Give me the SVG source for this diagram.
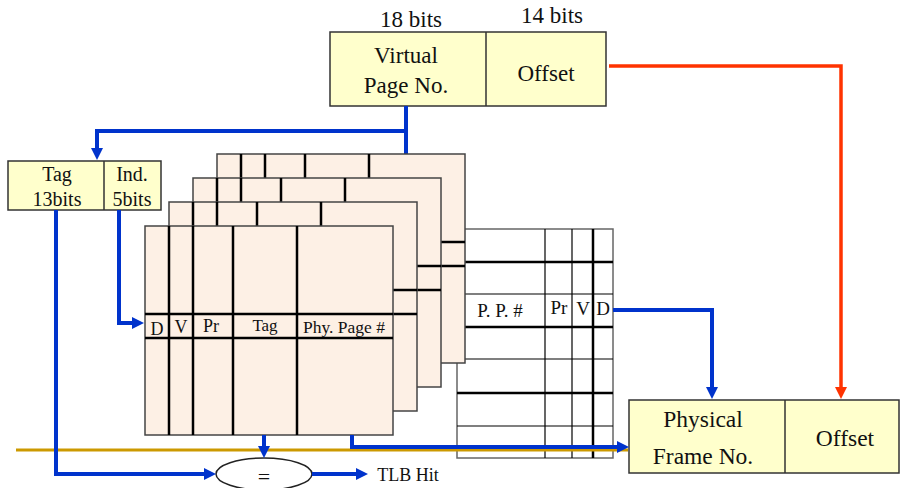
<svg xmlns="http://www.w3.org/2000/svg" xmlns:xlink="http://www.w3.org/1999/xlink" width="900" height="488" viewBox="0 0 900 488">
  <style>
    text { font-family: "Liberation Serif", "Times New Roman", serif; fill: #111; text-anchor: middle; }
    .box { fill: #FFFFCC; stroke: #333; stroke-width: 1.5; }
    .div { stroke: #333; stroke-width: 1.5; }
    .plane { fill: #FDF0E5; stroke: #444; stroke-width: 1.5; }
    .pl { stroke: #000; stroke-width: 2.5; }
    .tbl { fill: #FFFFFF; stroke: #666; stroke-width: 1.5; }
    .thin { stroke: #000; stroke-width: 1.2; }
    .thick { stroke: #000; stroke-width: 2.5; }
    .blue { fill: none; stroke: #0033CC; stroke-width: 4; }
    .red { fill: none; stroke: #FF3300; stroke-width: 3.5; }
    .gold { fill: none; stroke: #CC9900; stroke-width: 3; }
  </style>
  <defs>
    <marker id="arrBlue" viewBox="0 0 12 12" refX="4" refY="6" markerWidth="12" markerHeight="12" markerUnits="userSpaceOnUse" orient="auto">
      <path d="M0,0 L12,6 L0,12 z" fill="#0033CC"/>
    </marker>
    <marker id="arrRed" viewBox="0 0 12 12" refX="4" refY="6" markerWidth="12" markerHeight="12" markerUnits="userSpaceOnUse" orient="auto">
      <path d="M0,0 L12,6 L0,12 z" fill="#FF3300"/>
    </marker>
    <!-- one set of the TLB: entry grid with field columns -->
    <g id="tlbSet">
      <rect class="plane" x="0" y="0" width="248" height="209"/>
      <line class="pl" x1="24" y1="0" x2="24" y2="209"/>
      <line class="pl" x1="48" y1="0" x2="48" y2="209"/>
      <line class="pl" x1="88" y1="0" x2="88" y2="209"/>
      <line class="pl" x1="152" y1="0" x2="152" y2="209"/>
      <line class="pl" x1="0" y1="88" x2="248" y2="88"/>
      <line class="pl" x1="0" y1="112" x2="248" y2="112"/>
    </g>
  </defs>

  <!-- virtual address -->
  <g id="virtualAddress">
    <text x="411" y="27" font-size="23">18 bits</text>
    <text x="552" y="23" font-size="23">14 bits</text>
    <rect class="box" x="330" y="32" width="276" height="74"/>
    <line class="div" x1="486" y1="32" x2="486" y2="106"/>
    <text x="406" y="63" font-size="23">Virtual</text>
    <text x="406" y="93" font-size="23">Page No.</text>
    <text x="546" y="81" font-size="23">Offset</text>
  </g>

  <!-- tag / index split -->
  <g id="tagIndex">
    <rect class="box" x="8" y="161" width="153" height="49"/>
    <line class="div" x1="104" y1="161" x2="104" y2="210"/>
    <text x="57" y="181" font-size="20">Tag</text>
    <text x="57" y="206" font-size="20">13bits</text>
    <text x="132" y="181" font-size="20">Ind.</text>
    <text x="132" y="206" font-size="20">5bits</text>
  </g>

  <!-- page number bus going under the sets -->
  <g id="vpnBus">
    <path class="blue" d="M406,106 V156"/>
  </g>

  <!-- page table -->
  <g id="pageTable">
    <rect class="tbl" x="457" y="229" width="156" height="229"/>
    <line class="thin" x1="545" y1="229" x2="545" y2="458"/>
    <line class="thin" x1="572" y1="229" x2="572" y2="458"/>
    <line class="thick" x1="593" y1="229" x2="593" y2="458"/>
    <line class="thick" x1="457" y1="262" x2="613" y2="262"/>
    <line class="thin" x1="457" y1="294" x2="613" y2="294"/>
    <line class="thick" x1="457" y1="327" x2="613" y2="327"/>
    <line class="thin" x1="457" y1="359" x2="613" y2="359"/>
    <line class="thick" x1="457" y1="393" x2="613" y2="393"/>
    <line class="thin" x1="457" y1="426" x2="613" y2="426"/>
    <text x="500" y="317" font-size="19">P. P. #</text>
    <text x="559" y="314" font-size="19">Pr</text>
    <text x="583" y="315" font-size="19">V</text>
    <text x="603" y="315" font-size="19">D</text>
  </g>

  <!-- TLB sets, back to front -->
  <g id="tlbSet4"><use xlink:href="#tlbSet" href="#tlbSet" x="217" y="154"/></g>
  <g id="tlbSet3"><use xlink:href="#tlbSet" href="#tlbSet" x="193" y="178"/></g>
  <g id="tlbSet2"><use xlink:href="#tlbSet" href="#tlbSet" x="169" y="202"/></g>
  <g id="tlbSet1">
    <use xlink:href="#tlbSet" href="#tlbSet" x="145" y="226"/>
    <text x="157" y="335" font-size="18">D</text>
    <text x="181" y="333" font-size="18">V</text>
    <text x="211" y="332" font-size="18">Pr</text>
    <text x="265" y="331" font-size="17">Tag</text>
    <text x="344" y="333" font-size="17.5">Phy. Page #</text>
  </g>

  <!-- comparator -->
  <g id="comparator">
    <ellipse cx="264" cy="474" rx="48" ry="16" fill="#FFFFFF" stroke="#222" stroke-width="1.5"/>
    <text x="264" y="484" font-size="22">=</text>
  </g>
  <g id="tlbHit">
    <text x="408" y="481" font-size="18">TLB Hit</text>
  </g>

  <!-- physical address -->
  <g id="physicalAddress">
    <rect class="box" x="629" y="400" width="270" height="73"/>
    <line class="div" x1="785" y1="400" x2="785" y2="473"/>
    <text x="703" y="427" font-size="23.5">Physical</text>
    <text x="703" y="464" font-size="23.5">Frame No.</text>
    <text x="845" y="446" font-size="23.5">Offset</text>
  </g>

  <text x="864" y="497" font-size="13">13</text>

  <!-- connectors -->
  <g id="connectors">
    <path class="gold" d="M16,450 H628"/>
    <path class="blue" d="M406,131 H97 V152" marker-end="url(#arrBlue)"/>
    <path class="blue" d="M56,210 V474 H208" marker-end="url(#arrBlue)"/>
    <path class="blue" d="M119,210 V323 H136" marker-end="url(#arrBlue)"/>
    <path class="blue" d="M264,435 V450" marker-end="url(#arrBlue)"/>
    <path class="blue" d="M312,474 H360" marker-end="url(#arrBlue)"/>
    <path class="blue" d="M352,435 V447 H621" marker-end="url(#arrBlue)"/>
    <path class="blue" d="M613,310 H712 V391" marker-end="url(#arrBlue)"/>
    <path class="red" d="M609,66 H841 V391" marker-end="url(#arrRed)"/>
  </g>
</svg>
